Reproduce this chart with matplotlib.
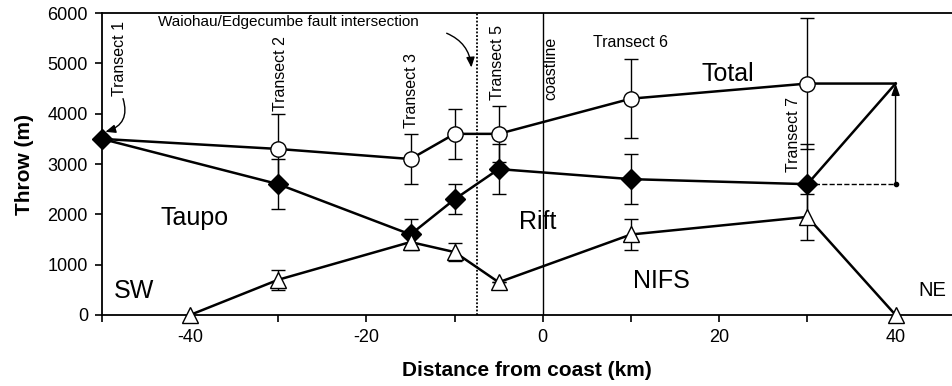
import numpy as np
import matplotlib
matplotlib.use("Agg")
import matplotlib.pyplot as plt

plt.rcParams['font.family'] = ['Liberation Sans', 'DejaVu Sans']

# total throw (open circles); first/last points are line ends only
total_dist = [-50, -30, -15, -10, -5, 10, 30, 40]
total_throw = [3500, 3300, 3100, 3600, 3600, 4300, 4600, 4600]
total_err = [0, 700, 500, 500, 560, 780, 1300, 0]

# rift faults (filled diamonds)
rift_dist = [-50, -30, -15, -10, -5, 10, 30]
rift_throw = [3500, 2600, 1600, 2300, 2900, 2700, 2600]
rift_err = [0, 500, 300, 300, 500, 500, 800]

# NIFS (open triangles)
nifs_dist = [-40, -30, -15, -10, -5, 10, 30, 40]
nifs_throw = [0, 700, 1450, 1250, 650, 1600, 1950, 0]
nifs_err = [0, 200, 100, 180, 0, 300, 450, 0]

fault_x = -7.5
coast_x = 0

fig = plt.figure(figsize=(9.52, 3.86), dpi=100)
ax = fig.add_axes([0.107, 0.184, 0.893, 0.782])

lw = 1.8
# error bars
ax.errorbar(total_dist[1:7], total_throw[1:7], yerr=total_err[1:7], fmt='none',
            ecolor='k', elinewidth=1, capsize=5, capthick=1, zorder=2)
ax.errorbar(rift_dist[1:], rift_throw[1:], yerr=rift_err[1:], fmt='none',
            ecolor='k', elinewidth=1, capsize=5, capthick=1, zorder=2)
ax.errorbar(nifs_dist[1:7], nifs_throw[1:7], yerr=nifs_err[1:7], fmt='none',
            ecolor='k', elinewidth=1, capsize=5, capthick=1, zorder=2)

# lines
ax.plot(total_dist, total_throw, '-', color='k', lw=lw, zorder=3)
ax.plot(total_dist[1:7], total_throw[1:7], 'o', ms=11, mfc='white', mec='k', mew=1, zorder=4)
ax.plot(rift_dist, rift_throw, '-D', color='k', lw=lw, ms=10, zorder=4, clip_on=False)
ax.plot(nifs_dist, nifs_throw, '-', color='k', lw=lw, zorder=3)
ax.plot(nifs_dist, nifs_throw, '^', ms=12, mfc='white', mec='k', mew=1, zorder=4, clip_on=False)

# NIFS contribution at the NE end
ax.plot([rift_dist[-1], total_dist[-1]], [rift_throw[-1], total_throw[-1]], '-', color='k', lw=lw, zorder=3)
ax.plot([rift_dist[-1], total_dist[-1]], [rift_throw[-1], rift_throw[-1]], '--', color='k', lw=1, zorder=3)
ax.plot([total_dist[-1]], [rift_throw[-1]], 'o', color='k', ms=3, zorder=3)
ax.annotate('', xy=(total_dist[-1], total_throw[-1]), xytext=(total_dist[-1], rift_throw[-1]),
            arrowprops=dict(arrowstyle='-|>,head_length=0.7,head_width=0.25', color='k', lw=1,
                            shrinkA=0, shrinkB=0), zorder=3)

# vertical reference lines
ax.axvline(fault_x, color='k', lw=1.3, ls=(0, (1, 1)), zorder=1)
ax.axvline(coast_x, color='k', lw=1, zorder=1)

# labels
tk = dict(rotation=90, ha='center', va='center', fontsize=11.5)
ax.text(-48, 5100, 'Transect 1', **tk)
ax.text(-29.8, 4790, 'Transect 2', **tk)
ax.text(-14.9, 4470, 'Transect 3', **tk)
ax.text(-5.1, 5020, 'Transect 5', **tk)
ax.text(0.9, 4900, 'coastline', **tk)
ax.text(28.4, 3580, 'Transect 7', **tk)
ax.text(9.9, 5420, 'Transect 6', ha='center', va='center', fontsize=11.5)
ax.text(-28.8, 5820, 'Waiohau/Edgecumbe fault intersection', ha='center', va='center', fontsize=11)

ax.annotate('', xy=(-49.6, 3640), xytext=(-47.6, 4300),
            arrowprops=dict(arrowstyle='-|>,head_length=0.6,head_width=0.25', color='k', lw=1,
                            connectionstyle='arc3,rad=-0.5', shrinkA=0, shrinkB=0))
ax.annotate('', xy=(-8.1, 4920), xytext=(-10.9, 5600),
            arrowprops=dict(arrowstyle='-|>,head_length=0.6,head_width=0.25', color='k', lw=1,
                            connectionstyle='arc3,rad=-0.3', shrinkA=0, shrinkB=0))

big = dict(ha='center', va='center', fontsize=18)
ax.text(21, 4790, 'Total', **big)
ax.text(-39.5, 1920, 'Taupo', **big)
ax.text(-0.6, 1840, 'Rift', **big)
ax.text(13.4, 680, 'NIFS', **big)
ax.text(-46.4, 480, 'SW', **big)
ax.text(44.2, 480, 'NE', ha='center', va='center', fontsize=14.5)

ax.set_xlim(-50, 46.4)
ax.set_ylim(0, 6000)
ax.set_xticks(np.arange(-50, 41, 10))
ax.set_xticklabels(['' if v % 20 else str(v) for v in range(-50, 41, 10)])
ax.set_yticks(np.arange(0, 6001, 1000))
ax.tick_params(direction='out', length=5, width=1.2, labelsize=13, pad=5)
ax.spines['right'].set_visible(False)
for s in ['left', 'bottom', 'top']:
    ax.spines[s].set_linewidth(1.3)
ax.set_xlabel('Distance from coast (km)', fontsize=15, fontweight='bold', labelpad=11)
ax.set_ylabel('Throw (m)', fontsize=15, fontweight='bold', labelpad=10)

fig.savefig('out.png', dpi=100)
